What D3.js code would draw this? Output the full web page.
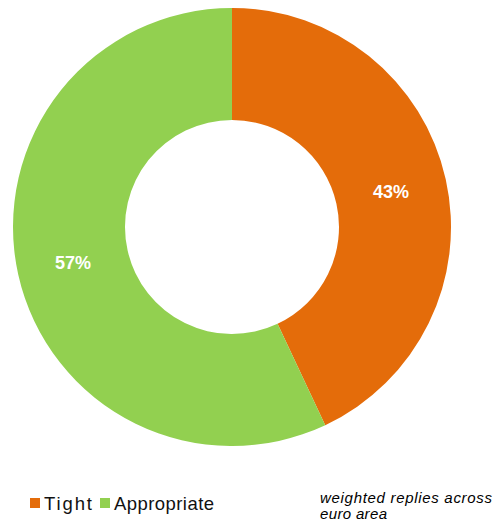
<!DOCTYPE html>
<html>
<head>
<meta charset="utf-8">
<script src="https://cdn.jsdelivr.net/npm/d3@7"></script>
<style>
  html, body { margin: 0; padding: 0; background: #fff; }
  svg { display: block; font-family: "Liberation Sans", Arial, sans-serif; }
</style>
</head>
<body>
<svg id="chart" width="501" height="526"></svg>
<script>
// share of replies, in percent
var categories = ["Tight", "Appropriate"],
    values = [43, 57],
    colors = ["#E46C0A", "#92D050"];

var svg = d3.select("#chart");

var cx = 232, cy = 227,
    outer = 219, inner = 107;

var pie = d3.pie()
  .sort(null)
  .value((d) => d.value);

var arc = d3.arc()
  .innerRadius(inner)
  .outerRadius(outer);

var slices = pie(categories.map((c, i) => ({name: c, value: values[i], color: colors[i]})));

var g = svg.append("g")
  .attr("transform", "translate(" + cx + "," + cy + ")");

g.selectAll("path")
  .data(slices)
  .enter()
  .append("path")
  .attr("d", arc)
  .attr("fill", (d) => d.data.color);

// percentage labels in the middle of the ring
g.selectAll("text")
  .data(slices)
  .enter()
  .append("text")
  .attr("transform", (d) => "translate(" + arc.centroid(d) + ")")
  .attr("text-anchor", "middle")
  .attr("dy", "0.36em")
  .attr("fill", "#fff")
  .attr("font-weight", "bold")
  .attr("font-size", 18)
  .text((d) => d.data.value + "%");

// legend
var legend = svg.append("g");
var lx = [30, 100], lw = [48, 100];

categories.forEach(function (c, i) {
  legend.append("rect")
    .attr("x", lx[i])
    .attr("y", 498)
    .attr("width", 10)
    .attr("height", 10)
    .attr("fill", colors[i]);
  legend.append("text")
    .attr("x", lx[i] + 14)
    .attr("y", 510)
    .attr("font-size", 18.5)
    .attr("fill", "#111")
    .attr("textLength", lw[i])
    .attr("lengthAdjust", "spacing")
    .text(c);
});

// note on the right
var note = ["weighted replies across", "euro area"];
svg.selectAll(".note")
  .data(note)
  .enter()
  .append("text")
  .attr("class", "note")
  .attr("x", 320)
  .attr("y", (d, i) => 503 + i * 16)
  .attr("font-size", 15)
  .attr("font-style", "italic")
  .attr("fill", "#000")
  .attr("textLength", (d, i) => i === 0 ? 172 : 67)
  .attr("lengthAdjust", "spacing")
  .text((d) => d);
</script>
</body>
</html>
